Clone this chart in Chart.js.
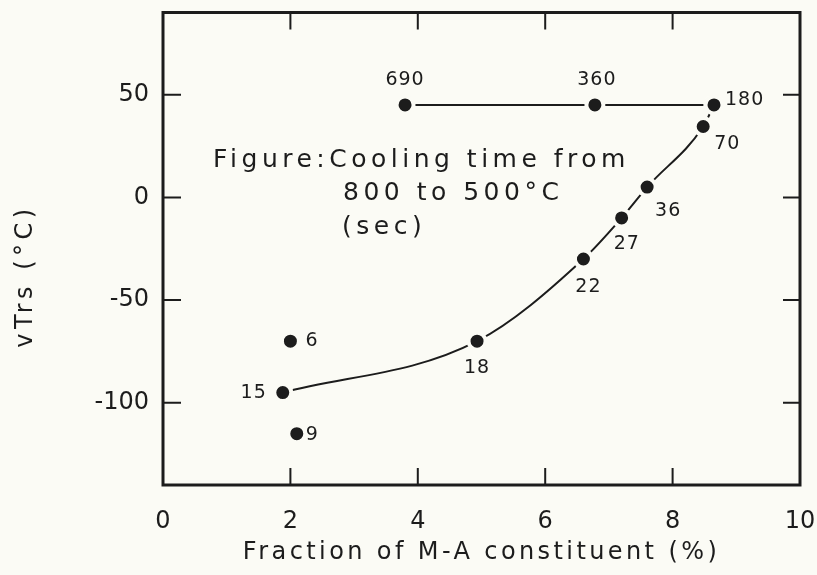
<!DOCTYPE html>
<html>
<head>
<meta charset="utf-8">
<script src="https://cdn.jsdelivr.net/npm/chart.js@4"></script>
<style>
  html, body { margin: 0; padding: 0; background: #fbfbf5; }
  #wrap { width: 817px; height: 575px; }
</style>
</head>
<body>
<div id="wrap"><canvas id="mtaChart"></canvas></div>
<script>
// values
const curveFraction = [1.88, 4.93, 6.6, 7.2, 7.6, 8.48, 8.65];
const curveVtrs = [-95, -70, -30, -10, 5, 34.5, 45];
const curveTime = ["15", "18", "22", "27", "36", "70", "180"];

const flatFraction = [3.8, 6.78, 8.65];
const flatVtrs = [45, 45, 45];
const flatTime = ["690", "360", ""];

const looseFraction = [2.0, 2.1];
const looseVtrs = [-70, -115];
const looseTime = ["6", "9"];

const xTicks = [0, 2, 4, 6, 8, 10];
const yTicks = [-100, -50, 0, 50];

const BG = "#fbfbf5";
const INK = "#1c1c1c";

const toPoints = (xs, ys) => xs.map((x, i) => ({ x: x, y: ys[i] }));

// label offsets next to each dot [dx, dy, align]
const labelPos = {
  "15": [-16, 1, "right"], "18": [0, 27, "center"], "22": [5, 28, "center"],
  "27": [-8, 26, "left"], "36": [8, 24, "left"], "70": [11, 18, "left"],
  "180": [11, -5, "left"], "690": [0, -25, "center"], "360": [2, -25, "center"],
  "6": [15, 0, "left"], "9": [9, 1, "left"],
};

const frameAndTicks = {
  id: "frameAndTicks",
  beforeDatasetsDraw(chart) {
    const { ctx, chartArea: a, scales } = chart;
    ctx.save();
    ctx.strokeStyle = INK;
    ctx.lineWidth = 3;
    ctx.strokeRect(a.left, a.top, a.right - a.left, a.bottom - a.top);
    ctx.lineWidth = 2;
    ctx.beginPath();
    xTicks.slice(1, -1).forEach(v => {
      const px = scales.x.getPixelForValue(v);
      ctx.moveTo(px, a.bottom); ctx.lineTo(px, a.bottom - 17);
      ctx.moveTo(px, a.top); ctx.lineTo(px, a.top + 17);
    });
    yTicks.forEach(v => {
      const py = scales.y.getPixelForValue(v);
      ctx.moveTo(a.left, py); ctx.lineTo(a.left + 18, py);
      ctx.moveTo(a.right, py); ctx.lineTo(a.right - 17, py);
    });
    ctx.stroke();

    // note inside the plot
    ctx.fillStyle = INK;
    ctx.font = "25px 'DejaVu Sans'";
    ctx.letterSpacing = "4.5px";
    ctx.textAlign = "left";
    ctx.textBaseline = "alphabetic";
    ctx.fillText("Figure:Cooling time from", a.left + 50, 167);
    ctx.fillText("800 to 500°C", a.left + 180, 200);
    ctx.fillText("(sec)", a.left + 179, 234);

    // x axis title
    ctx.font = "24px 'DejaVu Sans'";
    ctx.letterSpacing = "3.4px";
    ctx.textAlign = "center";
    ctx.textBaseline = "middle";
    ctx.fillText("Fraction of M-A constituent (%)", (a.left + a.right) / 2, 553);

    // y axis title
    ctx.translate(26, 276);
    ctx.rotate(-Math.PI / 2);
    ctx.font = "24px 'DejaVu Sans'";
    ctx.letterSpacing = "4.5px";
    ctx.fillText("vTrs (°C)", 0, 0);
    ctx.restore();
  },
  afterDatasetsDraw(chart) {
    const { ctx } = chart;
    ctx.save();
    ctx.fillStyle = INK;
    ctx.font = "19px 'DejaVu Sans'";
    ctx.letterSpacing = "1px";
    ctx.textBaseline = "middle";
    chart.data.datasets.forEach((ds, i) => {
      const meta = chart.getDatasetMeta(i);
      (ds.times || []).forEach((t, j) => {
        if (!t) return;
        const el = meta.data[j];
        const p = labelPos[t];
        ctx.textAlign = p[2];
        ctx.fillText(t, el.x + p[0], el.y + p[1]);
      });
    });
    ctx.restore();
  },
};

const dotStyle = {
  pointRadius: 8.5,
  pointBorderWidth: 4,
  pointBackgroundColor: INK,
  pointBorderColor: BG,
  pointHoverRadius: 8.5,
};

new Chart(document.getElementById("mtaChart"), {
  type: "scatter",
  data: {
    datasets: [
      {
        label: "curve",
        data: toPoints(curveFraction, curveVtrs),
        times: curveTime,
        showLine: true,
        cubicInterpolationMode: "monotone",
        borderColor: INK,
        borderWidth: 2,
        ...dotStyle,
        order: 1,
      },
      {
        label: "flat",
        data: toPoints(flatFraction, flatVtrs),
        times: flatTime,
        showLine: true,
        borderColor: INK,
        borderWidth: 2,
        ...dotStyle,
        order: 2,
      },
      {
        label: "loose",
        data: toPoints(looseFraction, looseVtrs),
        times: looseTime,
        showLine: false,
        ...dotStyle,
        order: 3,
      },
    ],
  },
  options: {
    responsive: true,
    maintainAspectRatio: false,
    animation: false,
    layout: { padding: { left: 8, right: 17, top: 11, bottom: 8 } },
    plugins: { legend: { display: false }, tooltip: { enabled: false } },
    scales: {
      x: {
        type: "linear",
        min: 0,
        max: 10,
        afterBuildTicks: (scale) => { scale.ticks = xTicks.map(v => ({ value: v })); },
        afterFit: (scale) => {
          scale.height = 82;
          scale.paddingLeft = 0;
          scale.paddingRight = 0;
        },
        grid: { display: false, drawTicks: false },
        border: { display: false },
        ticks: {
          color: INK,
          padding: 22,
          font: { family: "'DejaVu Sans'", size: 24 },
          callback: (v) => String(v),
        },
      },
      y: {
        type: "linear",
        min: -140,
        max: 90,
        afterBuildTicks: (scale) => { scale.ticks = yTicks.map(v => ({ value: v })); },
        afterFit: (scale) => {
          scale.width = 155;
          scale.paddingTop = 0;
          scale.paddingBottom = 0;
        },
        grid: { display: false, drawTicks: false },
        border: { display: false },
        ticks: {
          color: INK,
          padding: 14,
          font: { family: "'DejaVu Sans'", size: 24 },
          callback: (v) => String(v),
        },
      },
    },
  },
  plugins: [frameAndTicks],
});
</script>
</body>
</html>
